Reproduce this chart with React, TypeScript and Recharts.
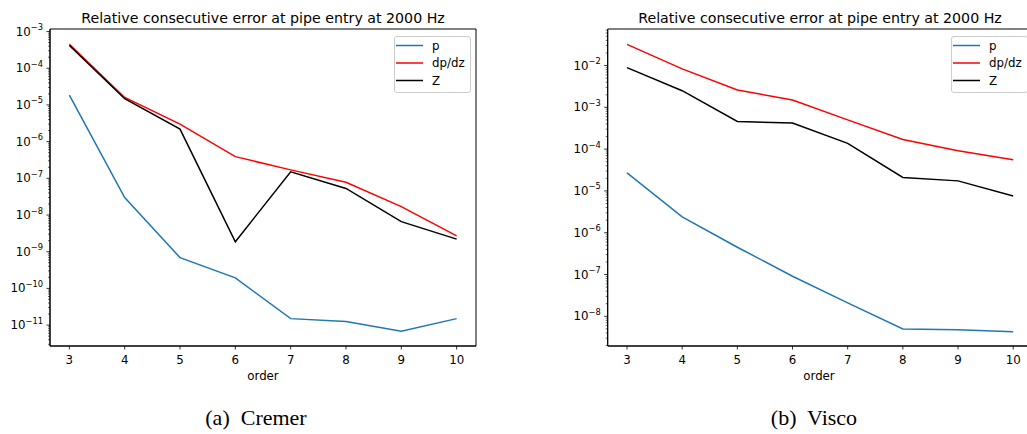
import React from "react";
import { LineChart, Line, XAxis, YAxis, Legend, ReferenceArea } from "recharts";

const orders = [3, 4, 5, 6, 7, 8, 9, 10];

// (a) Cremer
const cremerP = [1.86e-5, 3.0e-8, 6.9e-10, 1.94e-10, 1.5e-11, 1.26e-11, 6.8e-12, 1.5e-11];
const cremerDpdz = [4.5e-4, 1.6e-5, 3.0e-6, 3.9e-7, 1.7e-7, 7.8e-8, 1.7e-8, 2.7e-9];
const cremerZ = [4.2e-4, 1.48e-5, 2.2e-6, 1.87e-9, 1.5e-7, 5.3e-8, 6.6e-9, 2.2e-9];

// (b) Visco
const viscoP = [2.7e-5, 2.4e-6, 4.5e-7, 9.1e-8, 2.1e-8, 5.0e-9, 4.8e-9, 4.3e-9];
const viscoDpdz = [3.2e-2, 8.3e-3, 2.6e-3, 1.5e-3, 5.0e-4, 1.7e-4, 9.1e-5, 5.6e-5];
const viscoZ = [8.9e-3, 2.5e-3, 4.6e-4, 4.2e-4, 1.37e-4, 2.1e-5, 1.74e-5, 7.6e-6];

// decades that get a labelled major tick
const cremerDecades = [-11, -10, -9, -8, -7, -6, -5, -4, -3];
const viscoDecades = [-8, -7, -6, -5, -4, -3, -2];

const seriesNames = ["p", "dp/dz", "Z"];
const seriesColors = ["#1f77b4", "#ff0000", "#000000"];

const FONT = "'DejaVu Sans', sans-serif";

type Row = { order: number; p: number; dpdz: number; z: number };

function makeRows(p: number[], d: number[], z: number[]): Row[] {
  return orders.map((o, i) => ({ order: o, p: p[i], dpdz: d[i], z: z[i] }));
}

function logTicks(decades: number[], lo: number, hi: number) {
  const out: number[] = [];
  const all = [decades[0] - 1, ...decades];
  all.forEach((e) => {
    for (let k = 1; k <= 9; k++) {
      const v = k * Math.pow(10, e);
      if (v >= lo && v <= hi) out.push(v);
    }
  });
  return out;
}

const YTick = (props: any) => {
  const { x, y, payload } = props;
  const lg = Math.log10(payload.value);
  const e = Math.round(lg);
  const major = Math.abs(lg - e) < 1e-6;
  if (!major) {
    return <line x1={x} x2={x - 2} y1={y} y2={y} stroke="#000" strokeWidth={0.6} />;
  }
  return (
    <g>
      <line x1={x} x2={x - 3.5} y1={y} y2={y} stroke="#000" strokeWidth={0.8} />
      <text x={x - 7} y={y + 4} textAnchor="end" fontFamily={FONT} fontSize={11.8} fill="#000">
        10
        <tspan dy={-5.5} fontSize={8.3}>
          {"\u2212" + -e}
        </tspan>
      </text>
    </g>
  );
};

const XTick = (props: any) => {
  const { x, y, payload } = props;
  return (
    <g>
      <line x1={x} x2={x} y1={y} y2={y + 3.5} stroke="#000" strokeWidth={0.8} />
      <text x={x} y={y + 18} textAnchor="middle" fontFamily={FONT} fontSize={11.8} fill="#000">
        {payload.value}
      </text>
    </g>
  );
};

const LegendBox = (props: any) => {
  const items = [...(props.payload || [])].sort(
    (a: any, b: any) => seriesNames.indexOf(a.value) - seriesNames.indexOf(b.value)
  );
  return (
    <svg width={77} height={57} style={{ display: "block" }}>
      <rect x={0.5} y={0.5} width={76} height={56} rx={2.5} fill="#fff" fillOpacity={0.8} stroke="#cccccc" />
      {items.map((it: any, i: number) => {
        const cy = 9.5 + i * 17.5;
        return (
          <g key={it.value}>
            <line x1={2} x2={29} y1={cy} y2={cy} stroke={it.color} strokeWidth={1.5} />
            <text x={38} y={cy + 4.3} fontFamily={FONT} fontSize={11.8} fill="#000">
              {it.value}
            </text>
          </g>
        );
      })}
    </svg>
  );
};

type PanelProps = {
  rows: Row[];
  decades: number[];
  yLo: number;
  yHi: number;
  left: number;
  width: number;
  yAxisWidth: number;
  marginRight: number;
};

function Panel({ rows, decades, yLo, yHi, left, width, yAxisWidth, marginRight }: PanelProps) {
  const lo = Math.pow(10, yLo);
  const hi = Math.pow(10, yHi);
  const plotRight = width - marginRight;
  const xDomain: [number, number] = [2.65, 10.35];
  return (
    <div style={{ position: "absolute", left, top: 0 }}>
      <LineChart width={width} height={434} data={rows} margin={{ top: 29, right: marginRight, left: 0, bottom: 0 }}>
        <XAxis
          dataKey="order"
          type="number"
          domain={xDomain}
          allowDataOverflow
          ticks={orders}
          interval={0}
          tickSize={0}
          tickMargin={0}
          tick={XTick}
          height={88}
          axisLine={{ stroke: "#000", strokeWidth: 1 }}
        />
        <YAxis
          type="number"
          scale="log"
          domain={[lo, hi]}
          allowDataOverflow
          ticks={logTicks(decades, lo, hi)}
          interval={0}
          tickSize={0}
          tickMargin={0}
          tick={YTick}
          width={yAxisWidth}
          axisLine={{ stroke: "#000", strokeWidth: 1 }}
        />
        {/* axes frame */}
        <ReferenceArea
          x1={xDomain[0]}
          x2={xDomain[1]}
          y1={lo}
          y2={hi}
          fill="none"
          fillOpacity={0}
          stroke="#000"
          strokeWidth={1}
          ifOverflow="visible"
        />
        <Legend
          layout="horizontal"
          verticalAlign="middle"
          align="center"
          content={LegendBox}
          wrapperStyle={{ top: 35.7, left: plotRight - 82, width: 77, height: 57 }}
        />
        <Line dataKey="p" name={seriesNames[0]} stroke={seriesColors[0]} strokeWidth={1.5} dot={false} isAnimationActive={false} />
        <Line dataKey="dpdz" name={seriesNames[1]} stroke={seriesColors[1]} strokeWidth={1.5} dot={false} isAnimationActive={false} />
        <Line dataKey="z" name={seriesNames[2]} stroke={seriesColors[2]} strokeWidth={1.5} dot={false} isAnimationActive={false} />
      </LineChart>
    </div>
  );
}

export default function App() {
  const title = "Relative consecutive error at pipe entry at 2000 Hz";
  return (
    <div style={{ position: "fixed", left: 0, top: 0, width: 1027, height: 434, overflow: "hidden", background: "#fff" }}>
      <Panel
        rows={makeRows(cremerP, cremerDpdz, cremerZ)}
        decades={cremerDecades}
        yLo={-11.57}
        yHi={-2.93}
        left={0}
        width={500}
        yAxisWidth={50}
        marginRight={24}
      />
      <Panel
        rows={makeRows(viscoP, viscoDpdz, viscoZ)}
        decades={viscoDecades}
        yLo={-8.71}
        yHi={-1.126}
        left={520}
        width={520}
        yAxisWidth={87.7}
        marginRight={7.5}
      />
      <svg width={1027} height={434} style={{ position: "absolute", left: 0, top: 0, pointerEvents: "none" }}>
        <g fontFamily={FONT} fill="#000" textAnchor="middle">
          <text x={263} y={23.3} fontSize={14.2}>{title}</text>
          <text x={820} y={23.3} fontSize={14.2}>{title}</text>
          <text x={263} y={380} fontSize={11.8}>order</text>
          <text x={819} y={380} fontSize={11.8}>order</text>
        </g>
        <g fontFamily="'Liberation Serif', serif" fontSize={22} fill="#000" textAnchor="middle">
          <text x={256} y={425} xmlSpace="preserve">(a)  Cremer</text>
          <text x={814} y={425} xmlSpace="preserve">(b)  Visco</text>
        </g>
      </svg>
    </div>
  );
}
